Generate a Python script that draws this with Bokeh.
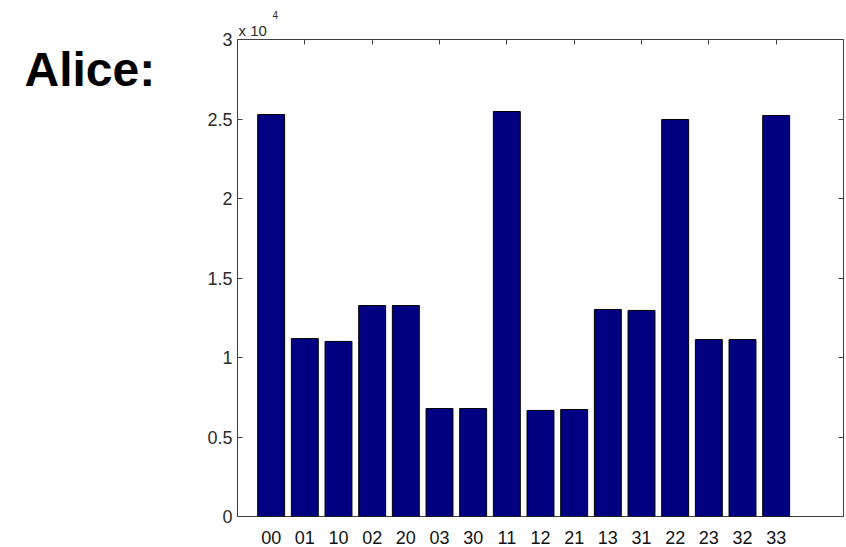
from bokeh.plotting import figure
from bokeh.models import ColumnDataSource, Range1d, LinearAxis, FixedTicker, Title
from bokeh.layouts import row
from bokeh.core.properties import value
from bokeh.embed import file_html
from bokeh.resources import INLINE

categories = ["00", "01", "10", "02", "20", "03", "30", "11",
              "12", "21", "13", "31", "22", "23", "32", "33"]
values = [25280, 11190, 11010, 13270, 13270, 6790, 6790, 25470,
          6670, 6730, 13020, 12960, 24970, 11130, 11130, 25220]
y_ticks = [0, 5000, 10000, 15000, 20000, 25000, 30000]
y_tick_labels = ["0", "0.5", "1", "1.5", "2", "2.5", "3"]
top_ticks = [2, 4, 6, 8, 10, 12, 14, 16]
name_text = "Alice:"
scale_text = "x 10"
scale_exp = "4"

positions = list(range(1, len(categories) + 1))
src = ColumnDataSource(dict(x=positions, top=values, cat=categories))

# left panel holding the name
fa = figure(width=190, height=547, output_backend="svg", toolbar_location=None,
            x_range=Range1d(0, 190), y_range=Range1d(547, 0),
            min_border=0, x_axis_type=None, y_axis_type=None, title=None)
fa.grid.visible = False
fa.outline_line_color = None
fa.text(x=[24], y=[34], text=[name_text], text_font=value("Liberation Sans"),
        text_font_style="bold", text_font_size="48px", text_color="#000000",
        text_baseline="alphabetic", text_align="left")

# main bar chart
p = figure(width=656, height=547, output_backend="svg", toolbar_location=None,
           x_range=Range1d(0, 18), y_range=Range1d(0, 30000),
           min_border_left=47, min_border_right=3, min_border_top=39,
           min_border_bottom=31, title=None)
p.grid.visible = False
p.outline_line_color = "#404040"
p.outline_line_width = 1

p.vbar(x="x", top="top", width=0.8, bottom=0, source=src,
       fill_color="#000080", line_color="#000000", line_width=1)

# bottom axis: category labels, no ticks
xa = p.xaxis[0]
xa.ticker = FixedTicker(ticks=positions)
xa.major_label_overrides = {pos: c for pos, c in zip(positions, categories)}
xa.major_tick_line_color = None
xa.minor_tick_line_color = None
xa.axis_line_color = None
xa.major_label_text_font = "Liberation Sans"
xa.major_label_text_font_size = "18px"
xa.major_label_text_color = "#111111"
xa.major_label_standoff = 8

# left axis
ya = p.yaxis[0]
ya.ticker = FixedTicker(ticks=y_ticks)
ya.major_label_overrides = {t: l for t, l in zip(y_ticks, y_tick_labels)}
ya.major_tick_in = 5
ya.major_tick_out = 0
ya.major_tick_line_color = "#404040"
ya.minor_tick_line_color = None
ya.axis_line_color = None
ya.major_label_text_font = "Liberation Sans"
ya.major_label_text_font_size = "18px"
ya.major_label_text_color = "#2a2a2a"
ya.major_label_standoff = 5

# right axis: inward ticks, no labels
ra = LinearAxis(ticker=FixedTicker(ticks=y_ticks))
ra.major_tick_in = 5
ra.major_tick_out = 0
ra.major_tick_line_color = "#404040"
ra.minor_tick_line_color = None
ra.axis_line_color = None
ra.major_label_text_color = None
ra.major_label_text_font_size = "1px"
ra.major_label_standoff = 0
p.add_layout(ra, "right")

# top axis: inward ticks, no labels
ta = LinearAxis(ticker=FixedTicker(ticks=top_ticks))
ta.major_tick_in = 5
ta.major_tick_out = 0
ta.major_tick_line_color = "#404040"
ta.minor_tick_line_color = None
ta.axis_line_color = None
ta.major_label_text_color = None
ta.major_label_text_font_size = "1px"
ta.major_label_standoff = 0
p.add_layout(ta, "above")

# scale note "x 10^4"
t1 = Title(text=scale_text, align="left", offset=1, standoff=2,
           text_font="Liberation Sans", text_font_style="normal",
           text_font_size="15px", text_color="#2a2a2a")
p.add_layout(t1, "above")
t2 = Title(text=scale_exp, align="left", offset=35, standoff=0,
           text_font="Liberation Sans", text_font_style="normal",
           text_font_size="10px", text_color="#2a2a2a")
p.add_layout(t2, "above")

layout = row(fa, p, spacing=0)
open("out.html", "w").write(file_html(layout, INLINE))
